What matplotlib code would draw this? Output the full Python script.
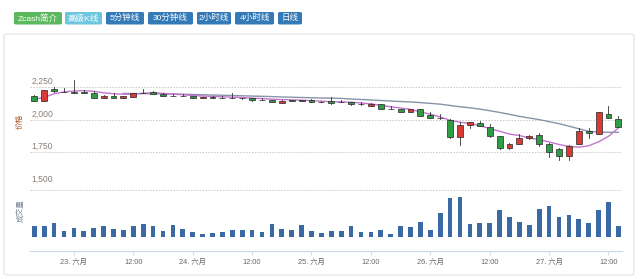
import numpy as np
import matplotlib
matplotlib.use("Agg")
import matplotlib.pyplot as plt
from matplotlib.patches import Rectangle, FancyBboxPatch

plt.rcParams['font.family'] = ['Liberation Sans', 'Noto Sans CJK SC', 'DejaVu Sans']

# ---- data (2-hour candles, hours relative to 23 June 00:00) ----
hours = list(range(-8, 112, 2))
opens = [2182, 2145, 2237, 2212, 2210, 2208, 2203, 2164, 2182, 2164,
         2174, 2203, 2213, 2198, 2182, 2180, 2180, 2164, 2170, 2168,
         2167, 2166, 2164, 2150, 2148, 2130, 2148, 2150, 2153, 2138,
         2145, 2138, 2133, 2118, 2106, 2120, 2081, 2078, 2059, 2078,
         2036, 2011, 2000, 1864, 1958, 1977, 1942, 1872, 1781, 1817,
         1856, 1883, 1817, 1773, 1721, 1812, 1915, 1890, 2039, 2008]
closes = [2145, 2223, 2215, 2209, 2203, 2205, 2164, 2182, 2164, 2177,
          2200, 2207, 2198, 2182, 2180, 2181, 2164, 2172, 2168, 2167,
          2166, 2163, 2148, 2149, 2133, 2145, 2146, 2141, 2133, 2136,
          2125, 2136, 2117, 2116, 2122, 2080, 2079, 2059, 2078, 2026,
          2016, 2009, 1864, 1958, 1978, 1950, 1872, 1781, 1817, 1862,
          1877, 1812, 1752, 1721, 1800, 1916, 1900, 2055, 2016, 1942]
highs = [2188, 2230, 2250, 2244, 2300, 2228, 2215, 2185, 2205, 2180,
         2203, 2234, 2222, 2200, 2196, 2196, 2183, 2174, 2180, 2184,
         2203, 2168, 2166, 2166, 2150, 2148, 2150, 2152, 2155, 2140,
         2170, 2150, 2135, 2133, 2125, 2122, 2103, 2080, 2082, 2080,
         2060, 2040, 2003, 1985, 1982, 1992, 1967, 1873, 1820, 1888,
         1882, 1900, 1822, 1783, 1805, 1932, 1932, 2058, 2104, 2026]
lows = [2140, 2142, 2212, 2208, 2201, 2204, 2162, 2162, 2162, 2162,
        2172, 2200, 2196, 2180, 2178, 2178, 2162, 2162, 2167, 2166,
        2165, 2161, 2146, 2147, 2131, 2128, 2144, 2139, 2131, 2134,
        2123, 2135, 2115, 2115, 2104, 2078, 2078, 2057, 2057, 2024,
        2014, 2008, 1862, 1808, 1934, 1948, 1870, 1779, 1779, 1815,
        1850, 1800, 1712, 1693, 1690, 1810, 1862, 1888, 2012, 1940]
volumes = [11.0, 10.3, 13.7, 6.0, 8.3, 5.7, 9.0, 10.3, 7.7, 7.0,
           10.3, 12.7, 11.0, 5.3, 11.7, 8.0, 4.3, 3.0, 3.7, 4.7,
           6.3, 6.3, 7.0, 4.7, 13.0, 7.3, 7.0, 11.3, 5.7, 3.3,
           5.7, 5.3, 10.3, 4.3, 4.3, 6.3, 3.0, 10.3, 9.7, 14.3,
           6.3, 24.0, 39.0, 40.0, 12.3, 13.3, 14.0, 26.7, 19.3, 14.7,
           11.3, 28.0, 30.7, 19.3, 21.3, 18.0, 14.0, 26.7, 34.7, 11.0]
ma_fast = [2156, 2169, 2198, 2211, 2219, 2221, 2216, 2205, 2198, 2194,
           2195, 2201, 2205, 2201, 2195, 2190, 2184, 2180, 2177, 2174,
           2172, 2169, 2164, 2161, 2156, 2153, 2151, 2148, 2145, 2141,
           2137, 2135, 2133, 2127, 2120, 2109, 2098, 2088, 2078, 2059,
           2041, 2020, 1995, 1980, 1971, 1953, 1932, 1911, 1889, 1878,
           1860, 1846, 1829, 1810, 1795, 1789, 1800, 1830, 1872, 1936]
ma_slow = [np.nan] * 9 + [
           2200, 2199, 2199, 2198, 2197, 2196, 2194, 2192, 2190, 2188,
           2186, 2184, 2182, 2180, 2178, 2176, 2173, 2171, 2169, 2167,
           2165, 2164, 2162, 2157, 2154, 2150, 2146, 2142, 2138, 2135,
           2130, 2124, 2118, 2108, 2098, 2090, 2080, 2068, 2055, 2040,
           2025, 2012, 2000, 1984, 1969, 1950, 1930, 1910, 1905, 1903,
           1903]
price_ticks = [1500, 1750, 2000, 2250]
x_ticks = [0, 12, 24, 36, 48, 60, 72, 84, 96, 108]
x_tick_labels = ['23. 六月', '12:00', '24. 六月', '12:00', '25. 六月', '12:00',
                 '26. 六月', '12:00', '27. 六月', '12:00']
buttons = ['Zcash简介', '高级K线', '5分钟线', '30分钟线', '2小时线', '4小时线', '日线']

# ---- figure ----
W, H = 640, 279
fig = plt.figure(figsize=(W / 100, H / 100), dpi=100)
fig.patch.set_facecolor('white')

def fx(px):
    return px / W

def fy(py):
    return 1 - py / H

# panel border
panel = FancyBboxPatch((fx(4), fy(275)), fx(630), (275 - 34) / H,
                       boxstyle="round,pad=0,rounding_size=0.006",
                       transform=fig.transFigure, facecolor='none',
                       edgecolor='#e2e2e2', lw=0.8, zorder=-5)
fig.patches.append(panel)

# buttons
btn_x = [(14, 62), (65, 102), (106, 144), (148, 193), (197, 231), (235, 274), (278, 302)]
btn_col = ['#5cb85c', '#6cc6e0', '#337ab7', '#337ab7', '#337ab7', '#337ab7', '#337ab7']
for (x0, x1), lab, c in zip(btn_x, buttons, btn_col):
    b = FancyBboxPatch((fx(x0), fy(24.5)), fx(x1 - x0), 12.5 / H,
                       boxstyle="round,pad=0,rounding_size=0.004",
                       transform=fig.transFigure, facecolor=c, edgecolor='none',
                       zorder=-4)
    fig.patches.append(b)
    fig.text(fx((x0 + x1) / 2), fy(18.3), lab, color='white', fontsize=6.1,
             ha='center', va='center')

left, right = 30, 622
ax = fig.add_axes([fx(left), fy(185), fx(right - left), (185 - 54.2) / H])
axv = fig.add_axes([fx(left), fy(251), fx(right - left), (251 - 190) / H], sharex=ax)
for a in (ax, axv):
    a.set_facecolor('none')
    a.set_zorder(2)
    for s in a.spines.values():
        s.set_visible(False)

xmin, xmax = -8.87, 110.73
ax.set_xlim(xmin, xmax)
ax.set_ylim(1500, 2500)

# gridlines
for t in price_ticks:
    ax.axhline(t, color='#c8c8c8', lw=0.7, ls=(0, (1.5, 1.5)), zorder=1)
    ax.annotate(f'{t:,}', xy=(0, t), xycoords=('axes fraction', 'data'),
                xytext=(1, 0.8), textcoords='offset points', ha='left', va='bottom',
                fontsize=6.2, color='#8a7c74')
ax.tick_params(axis='both', which='both', length=0, labelbottom=False, labelleft=False)
ax.set_yticks([])

# candles
bw = 1.2
up_col, dn_col = '#d93a35', '#2e9d46'
for h, o, c, hi, lo in zip(hours, opens, closes, highs, lows):
    ax.plot([h, h], [lo, hi], color='#333333', lw=0.6, zorder=3)
    col = up_col if c > o else dn_col
    bottom = min(o, c)
    height = max(abs(c - o), 1.0)
    ax.add_patch(Rectangle((h - bw / 2, bottom), bw, height, facecolor=col,
                           edgecolor='#262626', lw=0.5, zorder=4))

ax.plot(hours, ma_slow, color='#8694a8', lw=1.0, zorder=2)
ax.plot(hours, ma_fast, color='#c474cf', lw=1.0, zorder=2.5)

# volume
vmax = max(volumes)
axv.set_ylim(-vmax * 14.3 / 40, vmax * 46.7 / 40)
axv.axhline(vmax * 46.7 / 40, color='#c8c8c8', lw=0.7, ls=(0, (1.5, 1.5)), zorder=1)
axv.bar(hours, volumes, width=0.95, color='#3b69a4', zorder=3)
axv.spines['bottom'].set_visible(True)
axv.spines['bottom'].set_color('#ccd6eb')
axv.spines['bottom'].set_linewidth(0.8)
axv.set_yticks([])
axv.set_xticks(x_ticks)
axv.set_xticklabels(x_tick_labels, fontsize=5.3, color='#666666')
axv.tick_params(axis='x', length=3, width=0.6, color='#ccd6eb', pad=2.5)
axv.set_xlim(xmin, xmax)

# axis titles
fig.text(fx(20), fy(121), '价格', rotation=90, fontsize=5.5, color='#b0552c',
         ha='center', va='center')
fig.text(fx(20.5), fy(211), '成交量', rotation=90, fontsize=5.5, color='#7b8799',
         ha='center', va='center')

fig.savefig('out.png', dpi=100)
